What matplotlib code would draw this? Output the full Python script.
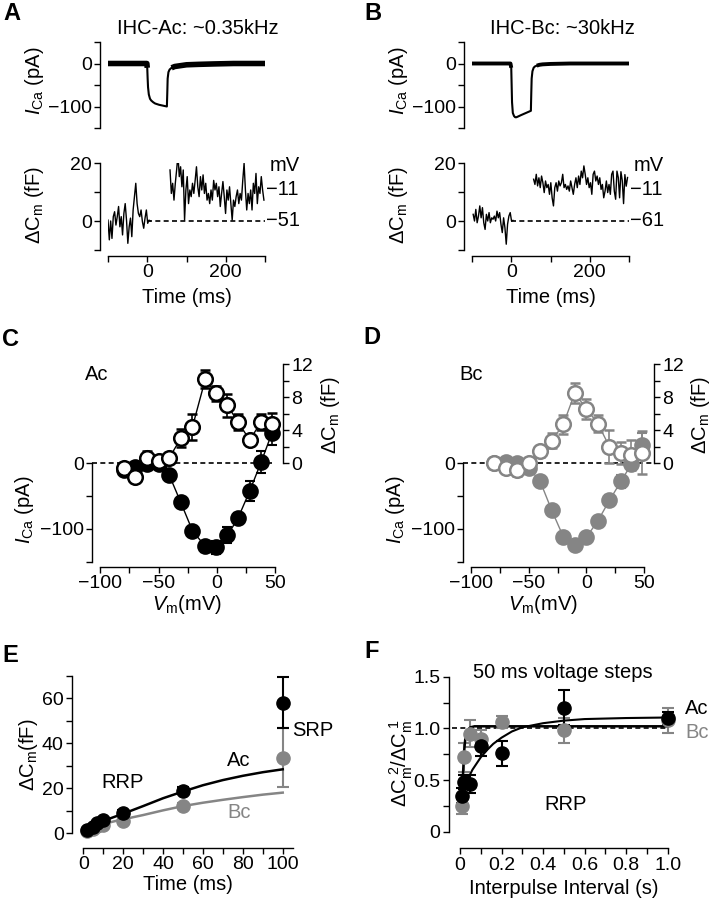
import numpy as np
import matplotlib.pyplot as plt

plt.rcParams['font.family'] = ['Liberation Sans', 'DejaVu Sans']
plt.rcParams['mathtext.fontset'] = 'custom'
plt.rcParams['mathtext.rm'] = 'Liberation Sans'
plt.rcParams['mathtext.it'] = 'Liberation Sans:italic'
plt.rcParams['axes.linewidth'] = 1.0

GRAY = '#858585'
W, H = 712, 900
FS = 14.5
TFS = 14

# ---- A / B : example traces ----
ica_t_ac = [-100, -60, -20, -1, 0, 1, 2, 4, 7, 10, 15, 20, 30, 40, 50, 51, 52, 54, 57, 62, 70, 85, 100, 130, 170, 220, 300]
ica_ac = [0, 0, 0, 0, -10, -35, -55, -72, -82, -86, -90, -93, -96, -98, -100, -70, -35, -20, -14, -10, -7, -5, -3, -2, -1, 0, 0]
ica_t_bc = [-100, -60, -2, 0, 1, 2, 4, 7, 10, 13, 18, 25, 35, 45, 50, 51, 52, 54, 57, 60, 65, 72, 80, 100, 150, 200, 300]
ica_bc = [0, 0, 0, -10, -50, -90, -115, -122, -125, -125, -123, -120, -116, -112, -110, -70, -35, -18, -10, -7, -5, -3, -2, -1, 0, 0, 0]

cm_pre_ac = [0.3, -6.5, 0, -6, 1.5, 3.2, -1.4, 1.5, 5, -2, 1.5, -4.8, 2.6, 6, 0.3, -7.7, -2, 1,
             -5.4, 3.8, 8.4, 13, 6, 2.6, 1.5, 3.8, -0.2, -2.5, 1, 3.8, -0.8, 0.3, 0]
cm_post_ac = [17.6, 9.5, 13, 7.2, 13, 17.6, 22.8, 15.3, 18.7, 11.8, 17.6, 0.3, 10.7, 15.3, 6, 10.7,
              8.4, 13, 9.5, 14, 18.7, 11.8, 8.4, 15.3, 10.7, 15.9, 9.5, 13, 7.2, 9.5, 6, 10.7, 7.2,
              14, 10.7, 13, 8.4, 11.8, 5, 9.5, 13.6, 8.4, 2.6, 10.7, 7.2, 11.8, 6, 0.3, 7.2, 5, 8.4,
              10.7, 6, 9.5, 7.2, 14, 19.9, 10.7, 3.8, 9.5, 6, 10.7, 3.8, 13, 9.5, 16.4, 6, 11.8, 9.5,
              15.3, 10.7, 7.2]
cm_pre_bc = [2.3, 0, 4, -0.6, 1.7, 5.2, 1.1, 4.6, -0.6, -2.9, 2.3, 0, 2.9, -0.6, 1.1, 0.6, 1.7, 0,
             3.4, 1.1, 2.9, -1.1, -4, 1.1, -2.3, -8, -1.1, 1.7, 2.9, 0, 0.2]
cm_post_bc = [14.4, 12.6, 16.1, 12.1, 14.9, 11.5, 15.5, 13.2, 9.8, 13.8, 11.5, 12.6, 9.2, 13.2, 8,
              5.2, 11.5, 13.2, 10.3, 13.8, 12.1, 13.2, 16.1, 11.5, 12.6, 10.9, 12.1, 10.3, 13.8,
              11.5, 9.2, 12.6, 14.9, 11.5, 15.5, 12.6, 17.2, 14.9, 19, 16.1, 12.6, 14.9, 11.5, 13.2,
              9.2, 16.1, 17.2, 13.8, 15.5, 12.6, 14.9, 10.9, 12.6, 8, 10.3, 13.8, 9.8, 12.6, 9.2,
              16.1, 17.2, 10.3, 7.5, 17.2, 15, 8, 17, 14, 6, 16, 12, 15]
dt = 3.37

# ---- C / D : I-V and Cm-V ----
v_ac = [-80, -70, -60, -50, -41, -31, -21, -10, -1, 9, 18, 28, 38, 47]
cm_ac = [-0.6, -1.7, 0.6, 0.2, 0.6, 3.0, 4.4, 10.2, 8.5, 7.0, 5.0, 2.8, 5.0, 4.7]
cm_ac_err = [0.3, 0.3, 0.8, 0.3, 0.4, 1.1, 1.6, 1.1, 0.9, 1.4, 1.0, 0.3, 1.0, 1.4]
ica_iv_ac = [-10, -6, -2, -1, -18, -60, -103, -127, -128, -110, -84, -43, 2, 45]
ica_iv_ac_err = [3, 3, 3, 3, 3, 4, 6, 8, 10, 12, 8, 15, 17, 17]

v_bc = [-80, -70, -60, -50, -40, -30, -20, -10, 0, 10, 20, 30, 39, 48]
cm_bc = [0.0, -0.6, -0.8, 0.0, 1.4, 2.7, 4.7, 8.5, 6.6, 4.8, 2.0, 1.2, 1.0, 1.25]
cm_bc_err = [0.3, 0.3, 0.8, 0.3, 0.7, 0.9, 1.2, 1.2, 1.2, 1.0, 2.0, 1.3, 1.8, 2.6]
ica_iv_bc = [0, 2, 0, -7, -28, -72, -112, -125, -113, -88, -57, -28, -2, 27]
ica_iv_bc_err = [3, 3, 3, 3, 3, 4, 5, 7, 5, 5, 8, 10, 8, 18]

# ---- E : exocytosis vs duration ----
t_e = [2, 5, 7, 10, 20, 50, 100]
cm_e_ac = [1.3, 2.8, 4.3, 6.0, 9.0, 18.9, 58.1]
cm_e_ac_err = [0.5, 0.5, 0.5, 0.8, 1.2, 1.5, 11.5]
cm_e_bc = [1.0, 2.0, 3.0, 3.6, 5.3, 12.0, 33.6]
cm_e_bc_err = [0.4, 0.4, 0.5, 0.6, 0.8, 1.2, 13]
fit_t_e = [0, 5, 10, 15, 20, 30, 40, 50, 60, 70, 80, 90, 100]
fit_e_ac = [1.0, 3.2, 5.4, 7.0, 8.6, 12.0, 15.5, 18.5, 21.3, 23.6, 25.5, 27.1, 28.4]
fit_e_bc = [1.5, 2.8, 4.0, 5.1, 6.1, 8.0, 10.1, 12.0, 13.5, 14.8, 16.0, 17.1, 18.0]

# ---- F : paired pulse recovery ----
ipi = [0.01, 0.02, 0.05, 0.1, 0.2, 0.5, 1.0]
ratio_ac = [0.35, 0.48, 0.46, 0.83, 0.76, 1.20, 1.10]
ratio_ac_err = [0.07, 0.07, 0.09, 0.10, 0.12, 0.17, 0.06]
ratio_bc = [0.25, 0.72, 0.95, 0.90, 1.06, 0.98, 1.08]
ratio_bc_err = [0.08, 0.14, 0.13, 0.08, 0.06, 0.12, 0.12]
fit_x_ac = [0.01, 0.02, 0.04, 0.06, 0.08, 0.1, 0.13, 0.16, 0.2, 0.25, 0.3, 0.4, 0.5, 0.6, 0.8, 1.0]
fit_f_ac = [0.38, 0.43, 0.52, 0.60, 0.66, 0.72, 0.79, 0.85, 0.91, 0.97, 1.01, 1.05, 1.075, 1.09, 1.10, 1.105]
fit_x_bc = [0.01, 0.015, 0.02, 0.025, 0.03, 0.04, 0.05, 0.07, 0.1, 0.3, 0.6, 1.0]
fit_f_bc = [0.30, 0.58, 0.78, 0.89, 0.95, 0.99, 1.01, 1.02, 1.02, 1.02, 1.02, 1.02]

ICA_LAB = r'$\mathit{I}_{\mathrm{Ca}}$ (pA)'
CM_LAB = r'ΔC$_{\mathrm{m}}$ (fF)'
VM_LAB = r'$\mathit{V}_{\mathrm{m}}$(mV)'

fig = plt.figure(figsize=(W / 100, H / 100), dpi=100)


def add_ax(l, t, r, b):
    return fig.add_axes([l / W, 1 - b / H, (r - l) / W, (b - t) / H])


def ftext(x, y, s, **kw):
    kw.setdefault('fontsize', FS)
    kw.setdefault('ha', 'center')
    kw.setdefault('va', 'center')
    fig.text(x / W, 1 - y / H, s, **kw)


def style(ax, left=None, bottom=None, right=None):
    for side in ['top', 'right', 'left', 'bottom']:
        ax.spines[side].set_visible(False)
    for side, off in [('left', left), ('bottom', bottom), ('right', right)]:
        if off is not None:
            ax.spines[side].set_visible(True)
            ax.spines[side].set_position(('outward', off * 0.72))
    ax.tick_params(which='both', direction='out', length=4, width=1, labelsize=TFS, pad=2,
                   left=left is not None, labelleft=left is not None,
                   bottom=bottom is not None, labelbottom=bottom is not None,
                   right=right is not None, labelright=right is not None)
    ax.patch.set_visible(False)


def noclip(container):
    for art in container.get_children():
        art.set_clip_on(False)


# ===== A and B =====
panels = [
    (108, 'IHC-Ac: ~0.35kHz', ica_t_ac, ica_ac, 4.0, cm_pre_ac, -100, cm_post_ac, 58, '−51', 0),
    (472, 'IHC-Bc: ~30kHz', ica_t_bc, ica_bc, 2.8, cm_pre_bc, -97, cm_post_bc, 57, '−61', 364),
]
for x0, title, it, iv, band, pre, pre_t0, post, post_t0, hold, dx in panels:
    ax = add_ax(x0, 42, x0 + 157, 128)
    style(ax, left=8)
    it = np.array(it)
    iv = np.array(iv)
    ax.plot(it, iv, color='black', lw=1.5)
    base = (it <= 0)
    ax.plot(it[base], iv[base], color='black', lw=band, solid_capstyle='butt')
    rec = (it >= 62)
    ax.plot(it[rec], iv[rec], color='black', lw=band, solid_capstyle='butt')
    ax.set_xlim(-100, 300)
    ax.set_ylim(-150, 50)
    ax.set_yticks([0, -100])
    ax.set_yticks([50, -50, -150], minor=True)
    ax.tick_params(which='minor', labelleft=False)

    bx = add_ax(x0, 163, x0 + 157, 250)
    style(bx, left=8, bottom=6)
    bx.plot(pre_t0 + dt * np.arange(len(pre)), pre, color='black', lw=1)
    bx.plot(post_t0 + dt * np.arange(len(post)), post, color='black', lw=1)
    bx.axhline(0, xmin=0.25, xmax=1, color='black', lw=1.2, ls=(0, (3, 2)))
    bx.set_xlim(-100, 300)
    bx.set_ylim(-10, 20)
    bx.set_yticks([0, 20])
    bx.set_yticks([-10, 10], minor=True)
    bx.set_xticks([0, 200])
    bx.set_xticks([-100, 100, 300], minor=True)
    bx.tick_params(which='minor', labelleft=False, labelbottom=False)
    bx.text(312, 19.3, 'mV', fontsize=FS, va='center', ha='left')
    bx.text(302, 11, '−11', fontsize=FS, va='center', ha='left')
    bx.text(302, 0, hold, fontsize=FS, va='center', ha='left')

    ftext(x0 + 90, 29, title)
    ftext(35 + dx, 81, ICA_LAB, rotation=90)
    ftext(35 + dx, 205, CM_LAB, rotation=90)
    ftext(187 + dx, 297, 'Time (ms)')

ftext(3, 13, 'A', fontsize=17, fontweight='bold', ha='left')
ftext(364, 13, 'B', fontsize=17, fontweight='bold', ha='left')

# ===== C and D =====
iv_panels = [
    (100.3, 275.3, 8.3, 7.7, 'black', v_ac, ica_iv_ac, ica_iv_ac_err, cm_ac, cm_ac_err, 'Ac', 0),
    (471, 644, 8, 10, GRAY, v_bc, ica_iv_bc, ica_iv_bc_err, cm_bc, cm_bc_err, 'Bc', 356),
]
for l, r, loff, roff, col, v, ica, ica_e, cm, cm_e, name, dx in iv_panels:
    ax = add_ax(l, 364.4, r, 561.6)
    style(ax, left=loff, bottom=5.4)
    ax.set_xlim(-100, 50)
    ax.set_ylim(-150, 150)
    ax.spines['left'].set_bounds(-150, 0)
    ax.set_yticks([0, -100])
    ax.set_yticks([-50, -150], minor=True)
    ax.set_xticks([-100, -50, 0, 50])
    ax.set_xticks([-75, -25, 25], minor=True)
    ax.tick_params(which='minor', labelleft=False, labelbottom=False)
    xmax = 1.0 if dx == 0 else 1.06
    ax.axhline(0, xmin=-0.048, xmax=xmax, color='black', lw=1.2, ls=(0, (3, 2)), clip_on=False)
    ax.plot(v, ica, color=col, lw=1, clip_on=False)
    eb = ax.errorbar(v, ica, yerr=ica_e, fmt='o', ms=10.5, mfc=col, mec=col, mew=1.5,
                     ecolor=col, elinewidth=1.2, capsize=3.5, capthick=1.2)
    noclip(eb)

    a2 = ax.twinx()
    style(a2, right=roff)
    a2.set_ylim(-12, 12)
    a2.spines['right'].set_bounds(0, 12)
    a2.set_yticks([0, 4, 8, 12])
    a2.set_yticks([2, 6, 10], minor=True)
    a2.tick_params(which='minor', labelright=False)
    a2.plot(v, cm, color=col, lw=1, clip_on=False)
    eb = a2.errorbar(v, cm, yerr=cm_e, fmt='o', ms=10.5, mfc='white', mec=col, mew=1.8,
                     ecolor=col, elinewidth=1.2, capsize=3.5, capthick=1.2)
    noclip(eb)

    ftext(97 + dx * 1.05, 374, name)
    ftext(25 + dx * 1.04, 510, ICA_LAB, rotation=90)
    ftext(330 + dx * 1.04, 415, CM_LAB, rotation=90)
    ftext(187 + dx, 604, VM_LAB)

ftext(2, 340, 'C', fontsize=17, fontweight='bold', ha='left')
ftext(363, 338, 'D', fontsize=17, fontweight='bold', ha='left')

# ===== E =====
ax = add_ax(83.3, 676, 292.7, 833)
style(ax, left=11.3, bottom=15)
ax.set_xlim(0, 105)
ax.set_ylim(0, 70)
ax.spines['bottom'].set_bounds(0, 105)
ax.set_xticks([0, 20, 40, 60, 80, 100])
ax.set_xticks([10, 30, 50, 70, 90], minor=True)
ax.set_yticks([0, 20, 40, 60])
ax.set_yticks([10, 30, 50, 70], minor=True)
ax.tick_params(which='minor', labelleft=False, labelbottom=False)
ax.plot(fit_t_e, fit_e_bc, color=GRAY, lw=1.8, clip_on=False)
eb = ax.errorbar(t_e, cm_e_bc, yerr=cm_e_bc_err, fmt='o', ms=9.5, mfc=GRAY, mec=GRAY,
                 ecolor=GRAY, elinewidth=1.5, capsize=4, capthick=1.5)
noclip(eb)
ax.plot(fit_t_e, fit_e_ac, color='black', lw=1.8, clip_on=False)
eb = ax.errorbar(t_e, cm_e_ac, yerr=cm_e_ac_err, fmt='o', ms=9.5, mfc='black', mec='black',
                 ecolor='black', elinewidth=1.5, capsize=4, capthick=1.5)
noclip(eb)
ftext(123, 783, 'RRP')
ftext(239, 761, 'Ac')
ftext(239, 813, 'Bc', color=GRAY)
ftext(313, 730, 'SRP')
ftext(29, 755, r'ΔC$_{\mathrm{m}}$(fF)', rotation=90)
ftext(188, 885, 'Time (ms)')
ftext(2, 656, 'E', fontsize=17, fontweight='bold', ha='left')

# ===== F =====
ax = add_ax(460, 676.7, 667.7, 831.7)
style(ax, left=11.3, bottom=16.6)
ax.set_xlim(0, 1.0)
ax.set_ylim(0, 1.5)
ax.set_xticks([0, 0.2, 0.4, 0.6, 0.8, 1.0])
ax.set_xticklabels(['0', '0.2', '0.4', '0.6', '0.8', '1.0'])
ax.set_xticks([0.1, 0.3, 0.5, 0.7, 0.9], minor=True)
ax.set_yticks([0, 0.5, 1.0, 1.5])
ax.set_yticklabels(['0', '0.5', '1.0', '1.5'])
ax.set_yticks([0.25, 0.75, 1.25], minor=True)
ax.tick_params(which='minor', labelleft=False, labelbottom=False)
ax.axhline(1.0, xmin=-0.04, xmax=1.0, color='black', lw=1.2, ls=(0, (3, 2)), clip_on=False)
eb = ax.errorbar(ipi, ratio_bc, yerr=ratio_bc_err, fmt='o', ms=9.5, mfc=GRAY, mec=GRAY,
                 ecolor=GRAY, elinewidth=1.5, capsize=4, capthick=1.5)
noclip(eb)
eb = ax.errorbar(ipi, ratio_ac, yerr=ratio_ac_err, fmt='o', ms=9.5, mfc='black', mec='black',
                 ecolor='black', elinewidth=1.5, capsize=4, capthick=1.5)
noclip(eb)
ax.plot(fit_x_ac, fit_f_ac, color='black', lw=1.5, clip_on=False)
ax.plot(fit_x_bc, fit_f_bc, color='black', lw=1.8, clip_on=False)
ftext(563, 672, '50 ms voltage steps')
ftext(697, 708, 'Ac')
ftext(697, 732, 'Bc', color=GRAY)
ftext(566, 804, 'RRP')
ftext(401, 763, r'ΔC$_{\mathrm{m}}^{\ 2}$/ΔC$_{\mathrm{m}}^{\ 1}$', rotation=90)
ftext(564, 889, 'Interpulse Interval (s)')
ftext(364, 651, 'F', fontsize=17, fontweight='bold', ha='left')

fig.savefig('out.png', dpi=100)
